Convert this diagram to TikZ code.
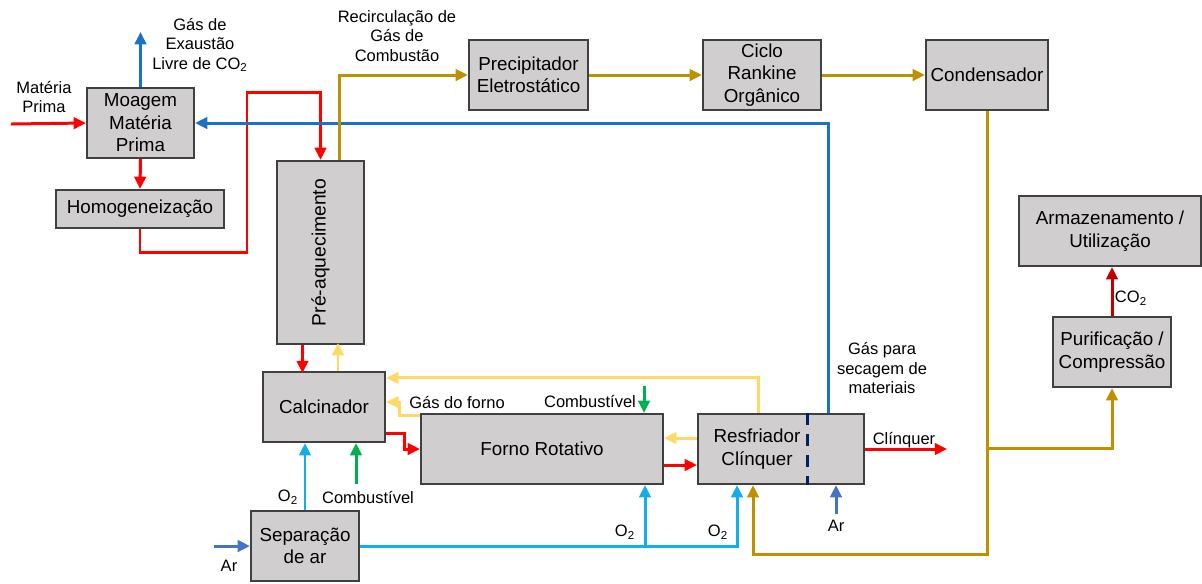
\documentclass[tikz,border=0pt]{standalone}
\usepackage{fontspec}
\setsansfont{Liberation Sans}
\usepackage{tikz}
\usetikzlibrary{arrows.meta,calc}
\definecolor{redcol}{HTML}{FF0000}
\definecolor{darkredcol}{HTML}{C00000}
\definecolor{bluecol}{HTML}{1A73C2}
\definecolor{skycol}{HTML}{12AEEB}
\definecolor{aircol}{HTML}{4472C4}
\definecolor{goldcol}{HTML}{BF9000}
\definecolor{sandcol}{HTML}{FFD966}
\definecolor{greencol}{HTML}{00B050}
\definecolor{navycol}{HTML}{002060}
\definecolor{boxcol}{HTML}{D0CECE}
\definecolor{edgecol}{HTML}{404040}

\begin{document}
\begin{tikzpicture}[x=0.02cm,y=-0.02cm,font=\sffamily,
  blk/.style={draw=edgecol, line width=1.2pt, fill=boxcol, align=center, inner sep=1pt,
    minimum height=1.4cm, font=\sffamily\fontsize{10.7}{12.8}\selectfont},
  lbl/.style={align=center, inner sep=0pt, font=\sffamily\fontsize{9.4}{11}\selectfont},
  flow/.style={line width=1.7pt, -{Triangle[length=7pt,width=6.5pt]}},
  plain/.style={line width=1.7pt}]
\useasboundingbox (0,0) rectangle (1202,583);

% process blocks
\node[blk, minimum width=2.14cm] (moagem) at (140.5,123) {Moagem\\Matéria\\Prima};
\node[blk, minimum width=3.36cm, minimum height=0.76cm] (homog) at (140,209) {Homogeneização};
\node[blk, minimum width=1.74cm, minimum height=3.66cm,
  label={[rotate=90, font=\sffamily\fontsize{11}{13}\selectfont]center:Pré-aquecimento}] (preaq) at (320.5,252.5) {};
\node[blk, minimum width=2.44cm] (calc) at (324,407) {Calcinador};
\node[blk, minimum width=4.84cm] (forno) at (542,449) {Forno Rotativo};
\node[blk, minimum width=3.32cm,
  label={[xshift=-0.48cm, align=center, font=\sffamily\fontsize{10.7}{12.8}\selectfont]center:Resfriador\\Clínquer}] (resfr) at (781,449) {};
\node[blk, minimum width=2.16cm] (sep) at (305,546) {Separação\\de ar};
\node[blk, minimum width=2.38cm] (precip) at (528.5,75) {Precipitador\\Eletrostático};
\node[blk, minimum width=2.36cm] (ciclo) at (762,75) {Ciclo\\Rankine\\Orgânico};
\node[blk, minimum width=2.44cm] (cond) at (987,75) {Condensador};
\node[blk, minimum width=3.64cm] (armaz) at (1110,231) {Armazenamento /\\Utilização};
\node[blk, minimum width=2.36cm] (purif) at (1112,352) {Purificação /\\Compressão};

% raw material line
\draw[flow, redcol] ($(moagem.west)+(-75,1)$) -- (moagem.west);
\draw[flow, redcol] (moagem.south) -- (homog.north);
\draw[flow, redcol] (homog.south) |- (247,252) -- (247,92) -| (preaq.north);
\draw[flow, redcol] ($(preaq.south)+(-18,0)$) -- ++(0,28);
\draw[flow, redcol] ($(calc.south east)+(0,-10)$) -- ++(18,0) |- (forno.west);
\draw[flow, redcol] ($(forno.east)+(0,16)$) -- ($(resfr.west)+(0,16)$);
\draw[flow, redcol] (resfr.east) -- ++(82,0);

% exhaust and drying gas
\draw[flow, bluecol] (moagem.north) -- ++(0,-55);
\draw[flow, bluecol] ($(resfr.north)+(47,0)$) |- (moagem.east);

% hot gas
\draw[flow, sandcol] ($(calc.north)+(14,0)$) -- ++(0,-28);
\draw[flow, sandcol] ($(resfr.north)+(-23,0)$) |- ($(calc.north east)+(0,7)$);
\draw[flow, sandcol] ($(forno.north west)+(0,3)$) -- ++(-20,0) |- ($(calc.east)+(0,-5)$);
\draw[flow, sandcol] ($(resfr.west)+(0,-11)$) -- ($(forno.east)+(0,-11)$);

% flue gas
\coordinate (split) at (987,448);
\draw[flow, goldcol] ($(preaq.north)+(19,0)$) |- (precip.west);
\draw[flow, goldcol] (precip.east) -- (ciclo.west);
\draw[flow, goldcol] (ciclo.east) -- (cond.west);
\draw[plain, goldcol] (cond.south) -- (split);
\draw[flow, goldcol] (split) -| (purif.south);
\draw[flow, goldcol] (split) |- (753,554) -- ($(resfr.south)+(-28,0)$);
\draw[flow, darkredcol] (purif.north) -- (purif.north |- armaz.south);

% fuel
\draw[flow, greencol] ($(forno.north east)+(-20,-27)$) -- ++(0,27);
\draw[flow, greencol] ($(calc.south)+(32,41)$) -- ++(0,-41);

% oxygen and air
\coordinate (o2split) at ($(forno.south)+(103,62)$);
\draw[flow, skycol] (sep.north) -- (sep.north |- calc.south);
\draw[flow, skycol] (sep.east) -| ($(resfr.south)+(-44,0)$);
\draw[flow, skycol] (o2split) -- ($(forno.south)+(103,0)$);
\draw[flow, aircol] ($(sep.west)+(-36,0)$) -- (sep.west);
\draw[flow, aircol] ($(resfr.south)+(55,29)$) -- ++(0,-29);

% divider in the cooler
\draw[navycol, line width=1.7pt, dash pattern=on 7pt off 5pt] ($(resfr.north)+(26,0)$) -- ($(resfr.south)+(26,0)$);

% labels
\node[lbl] (lmat) at (44,97) {Matéria\\Prima};
\node[lbl] (lexh) at (200,45) {Gás de\\Exaustão\\Livre de CO\textsubscript{2}};
\node[lbl] (lrec) at (397,36) {Recirculação de\\Gás de\\Combustão};
\node[lbl] (lkiln) at (457,402) {Gás do forno};
\node[lbl] (lfuela) at (590,401) {Combustível};
\node[lbl] (lfuelb) at (368,497) {Combustível};
\node[lbl] (lox1) at (288,497) {O\textsubscript{2}};
\node[lbl] (lox2) at (625,532) {O\textsubscript{2}};
\node[lbl] (lox3) at (718,532) {O\textsubscript{2}};
\node[lbl] (lair1) at (229,566) {Ar};
\node[lbl] (lair2) at (836,526) {Ar};
\node[lbl] (lclk) at (904,440) {Clínquer};
\node[lbl] (ldry) at (882,368) {Gás para\\secagem de\\materiais};
\node[lbl] (lco2) at (1131,298) {CO\textsubscript{2}};
\end{tikzpicture}
\end{document}
